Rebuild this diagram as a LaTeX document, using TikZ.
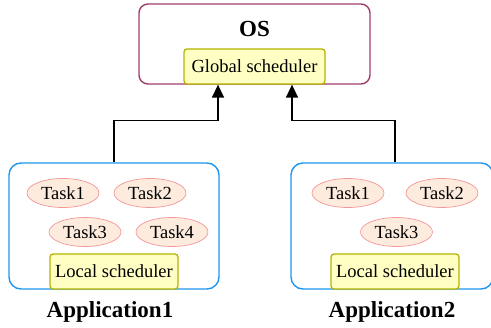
\documentclass[tikz,border=0pt]{standalone}
\usepackage{fontspec}
\setmainfont{Liberation Serif}
\usetikzlibrary{arrows.meta,shapes.geometric}
\definecolor{osc}{RGB}{160,60,110}
\definecolor{appc}{RGB}{30,150,240}
\definecolor{schedfill}{RGB}{255,255,196}
\definecolor{schedline}{RGB}{180,180,0}
\definecolor{taskfill}{RGB}{253,236,222}
\definecolor{taskline}{RGB}{244,150,150}
\tikzset{
  x=1pt,y=1pt,
  txt/.style={font=\fontsize{18.5}{21}\selectfont},
  btxt/.style={font=\fontsize{23}{27}\selectfont\bfseries},
  osbox/.style={draw=osc,line width=1.4pt,rounded corners=9pt,minimum width=231pt,minimum height=80pt,inner sep=0pt},
  appbox/.style={draw=appc,line width=1.4pt,rounded corners=12pt,minimum height=126pt,inner sep=0pt},
  sched/.style={draw=schedline,fill=schedfill,line width=1.3pt,rounded corners=3pt,minimum height=35pt,inner sep=0pt,txt},
  task/.style={ellipse,draw=taskline,fill=taskfill,line width=0.7pt,minimum width=72pt,minimum height=29pt,inner sep=0pt,txt},
  arr/.style={line width=1.4pt,-{Triangle[width=12pt,length=13pt]}},
}
\begin{document}
\begin{tikzpicture}
\useasboundingbox (0,0) rectangle (491,-328);
\node[osbox] (os) at (254.5,-44) {};
\node[btxt] (ostxt) at (254.5,-29) {OS};
\node[sched,minimum width=141pt] (glob) at (254.5,-66.5) {Global scheduler};

\node[appbox,minimum width=210pt] (app1) at (114,-226) {};
\node[task] (t11) at (63,-193) {Task1};
\node[task] (t12) at (150,-193) {Task2};
\node[task] (t13) at (85,-232) {Task3};
\node[task] (t14) at (172,-232) {Task4};
\node[sched,minimum width=128pt] (loc1) at (114,-271.5) {Local scheduler};
\node[btxt] (lab1) at (110,-312) {Application1};

\node[appbox,minimum width=202pt] (app2) at (392,-226) {};
\node[task] (t21) at (348,-193) {Task1};
\node[task] (t22) at (442,-193) {Task2};
\node[task] (t23) at (396.5,-232) {Task3};
\node[sched,minimum width=128pt] (loc2) at (395,-271.5) {Local scheduler};
\node[btxt] (lab2) at (392,-312) {Application2};

\draw[arr] (app1.north) -- ++(0,42) -| ([xshift=-36.5pt]glob.south);
\draw[arr] ([xshift=3pt]app2.north) -- ++(0,42) -| ([xshift=37.5pt]glob.south);
\end{tikzpicture}
\end{document}
